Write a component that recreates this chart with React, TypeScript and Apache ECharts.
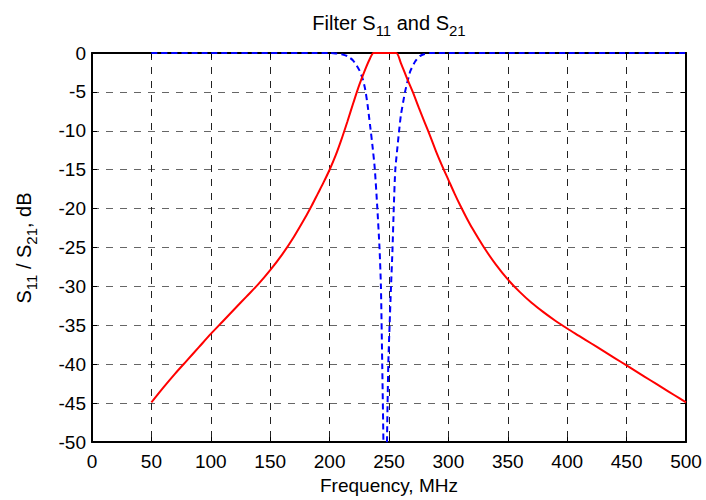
import React, { useEffect, useRef } from "react";
import * as echarts from "echarts";

// Frequency (MHz) and S21 (dB) – red solid curve
const s21Freq = [50, 60, 70, 80, 90, 100, 110, 120, 130, 140, 150, 160, 170, 180, 185, 190, 195, 200, 205, 210, 215, 220, 225, 230, 234, 237, 240, 245, 250, 256, 260, 265, 270, 275, 280, 285, 290, 295, 300, 305, 310, 315, 320, 330, 340, 350, 360, 370, 380, 390, 400, 410, 420, 430, 440, 450, 460, 470, 480, 490, 500];
const s21dB = [-44.9, -43.0, -41.2, -39.5, -37.8, -36.1, -34.5, -32.9, -31.3, -29.7, -27.9, -25.9, -23.6, -21.0, -19.6, -18.1, -16.6, -15.0, -13.2, -11.1, -8.8, -6.4, -4.1, -2.1, -0.7, 0, 0, 0, 0, 0, -1.3, -3.2, -5.0, -7.0, -8.9, -10.8, -12.8, -14.6, -16.3, -18.0, -19.6, -21.1, -22.5, -25.0, -27.2, -29.1, -30.7, -32.1, -33.3, -34.4, -35.4, -36.35, -37.3, -38.25, -39.2, -40.15, -41.1, -42.05, -43.0, -43.95, -44.9];

// Frequency (MHz) and S11 (dB) – blue dashed curve
const s11Freq = [50, 100, 150, 200, 205, 210, 215, 220, 225, 228, 230, 232, 234, 236, 238, 240, 242, 243.2, 244.3, 245.3, 246.8, 248.3, 249.4, 250.5, 251.7, 253, 254, 255.3, 257.5, 258.5, 260, 263.5, 266, 268, 272, 276, 280, 285, 300, 350, 400, 450, 500];
const s11dB = [0, 0, 0, 0, -0.05, -0.15, -0.4, -1.0, -2.2, -3.4, -4.7, -6.7, -9.2, -11.8, -14.8, -19.5, -25, -30, -40, -50, -70, -50, -40, -35, -30, -25, -20, -15, -11.5, -10, -8, -5, -3.4, -2.3, -1.1, -0.4, -0.12, 0, 0, 0, 0, 0, 0];

const xTicks = { min: 0, max: 500, interval: 50 };
const yTicks = { min: -50, max: 0, interval: 5 };

const FONT = "'Liberation Sans', Arial, Helvetica, sans-serif";

export default function App() {
  const ref = useRef<HTMLDivElement>(null);
  useEffect(() => {
    if (!ref.current) return;
    const chart = echarts.init(ref.current, undefined, { renderer: "svg" });
    const axisLine = { show: true, onZero: false, lineStyle: { color: "#000", width: 2 } };
    const axisTick = { show: true, inside: true, length: 5, lineStyle: { color: "#000", width: 1 } };
    const richTxt = {
      n: { fontSize: 20, fontFamily: FONT, fill: "#000" },
      s: { fontSize: 15, fontFamily: FONT, fill: "#000", padding: [14, 0, 0, 0] },
    };
    chart.setOption({
      animation: false,
      backgroundColor: "#fff",
      grid: { left: 92, right: 20, top: 53, bottom: 57, containLabel: false },
      xAxis: [
        {
          type: "value",
          position: "bottom",
          ...xTicks,
          axisLine,
          axisTick,
          axisLabel: { color: "#000", fontSize: 19, fontFamily: FONT, margin: 10 },
          splitLine: { show: true, lineStyle: { color: "#222", width: 1, type: [7, 7] } },
          name: "Frequency, MHz",
          nameLocation: "middle",
          nameGap: 32,
          nameTextStyle: { color: "#000", fontSize: 19, fontFamily: FONT },
        },
        {
          type: "value",
          position: "top",
          ...xTicks,
          axisLine,
          axisTick,
          axisLabel: { show: false },
          splitLine: { show: false },
        },
      ],
      yAxis: [
        {
          type: "value",
          position: "left",
          ...yTicks,
          axisLine,
          axisTick,
          axisLabel: { color: "#000", fontSize: 19, fontFamily: FONT, margin: 6 },
          splitLine: { show: true, lineStyle: { color: "#666", width: 1, type: [7, 7] } },
        },
        {
          type: "value",
          position: "right",
          ...yTicks,
          axisLine,
          axisTick,
          axisLabel: { show: false },
          splitLine: { show: false },
        },
      ],
      graphic: [
        {
          type: "text",
          x: 389,
          y: 23,
          style: {
            text: "{n|Filter S}{s|11}{n| and S}{s|21}",
            rich: richTxt,
            align: "center",
            verticalAlign: "middle",
            fill: "#000",
          },
        },
        {
          type: "text",
          x: 24,
          y: 248,
          rotation: Math.PI / 2,
          style: {
            text: "{n|S}{s|11}{n| / S}{s|21}{n|, dB}",
            rich: richTxt,
            align: "center",
            verticalAlign: "middle",
            fill: "#000",
          },
        },
      ],
      series: [
        {
          type: "line",
          name: "S11",
          data: s11Freq.map((f, i) => [f, s11dB[i]]),
          showSymbol: false,
          smooth: 0.2,
          clip: true,
          lineStyle: { color: "#0000ff", width: 2, type: [6, 4] },
        },
        {
          type: "line",
          name: "S21",
          data: s21Freq.map((f, i) => [f, s21dB[i]]),
          showSymbol: false,
          smooth: 0.3,
          clip: true,
          lineStyle: { color: "#ff0000", width: 2 },
        },
      ],
    });
    return () => chart.dispose();
  }, []);
  return <div ref={ref} style={{ width: 706, height: 500, position: "absolute", left: 0, top: 0 }} />;
}
